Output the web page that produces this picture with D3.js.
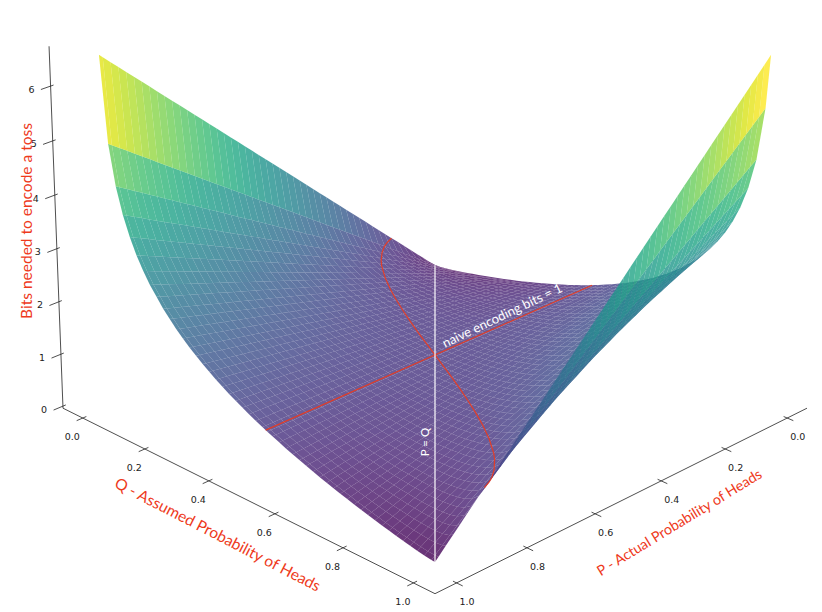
<!DOCTYPE html>
<html><head><meta charset="utf-8">
<script src="https://cdnjs.cloudflare.com/ajax/libs/d3/7.8.5/d3.min.js"></script>
<style>html,body{margin:0;padding:0;background:#fff}svg{display:block}</style>
</head><body><svg id="c" width="822" height="612"></svg>
<script>
// Surface heights: rows are Q values, columns are P values
const pGrid = [0.01, 0.33, 0.67, 0.98, 0.99];
const qGrid = [0.01,0.03,0.05,0.07,0.09,0.11,0.13,0.15,0.19,0.23,0.27,0.31,0.35,0.39,0.43,0.47,0.49,
               0.52,0.56,0.60,0.64,0.68,0.72,0.76,0.80,0.84,0.86,0.88,0.90,0.92,0.94,0.96,0.98,0.99];
const bits = [
[0.081,2.202,4.456,6.511,6.578],
[0.094,1.699,3.404,4.959,5.009],
[0.116,1.476,2.920,4.237,4.279],
[0.142,1.336,2.605,3.762,3.800],
[0.170,1.238,2.372,3.407,3.441],
[0.198,1.163,2.189,3.124,3.154],
[0.228,1.106,2.038,2.888,2.916],
[0.260,1.060,1.911,2.687,2.712],
[0.325,0.994,1.706,2.354,2.375],
[0.395,0.952,1.545,2.085,2.103],
[0.468,0.928,1.415,1.860,1.875],
[0.547,0.916,1.309,1.667,1.679],
[0.630,0.916,1.220,1.497,1.506],
[0.720,0.926,1.145,1.345,1.351],
[0.815,0.945,1.084,1.210,1.214],
[0.918,0.973,1.032,1.085,1.087],
[0.972,0.990,1.010,1.028,1.029],
[1.058,1.021,0.981,0.945,0.944],
[1.181,1.069,0.951,0.844,0.840],
[1.316,1.129,0.930,0.749,0.743],
[1.466,1.200,0.918,0.661,0.652],
[1.633,1.285,0.915,0.578,0.567],
[1.823,1.387,0.924,0.501,0.488],
[2.042,1.510,0.945,0.429,0.413],
[2.302,1.662,0.982,0.362,0.342],
[2.620,1.854,1.041,0.299,0.275],
[2.811,1.973,1.082,0.270,0.244],
[3.030,2.110,1.133,0.242,0.213],
[3.290,2.276,1.198,0.215,0.184],
[3.609,2.481,1.283,0.191,0.156],
[4.019,2.749,1.399,0.169,0.129],
[4.598,3.131,1.572,0.151,0.105],
[5.588,3.791,1.882,0.141,0.085],
[6.578,4.456,2.202,0.147,0.081]
];
// Curved branch of the 1-bit contour
const contourQ = [0.01,0.02,0.03,0.05,0.08,0.10,0.15,0.20,0.25,0.30,0.35,0.40,0.45,0.50,0.55,0.60,0.65,0.70,0.75,0.80,0.85,0.90,0.92,0.95,0.97,0.98,0.99];
const contourP = [0.149,0.173,0.191,0.218,0.250,0.268,0.306,0.339,0.369,0.397,0.424,0.450,0.475,0.5,0.525,0.550,0.576,0.603,0.631,0.661,0.694,0.732,0.750,0.782,0.809,0.827,0.851];
const pqTicks = [0,0.2,0.4,0.6,0.8,1];
const zTicks = [0,1,2,3,4,5,6];
const labels = {q:"Q - Assumed Probability of Heads", p:"P - Actual Probability of Heads", z:"Bits needed to encode a toss", pq:"P = Q", naive:"naive encoding bits = 1"};

const red="#ee3a1c";
// camera
const cx=435, cy=408, K=372, bf=0.085, bh=0.0323, Fpx=169.7, Hpx=311.5;
const boxLo=-0.065, boxHi=1.06;
const sP=d3.scaleLinear().domain([boxLo,boxHi]).range([-0.5,0.5]);
const sQ=d3.scaleLinear().domain([boxLo,boxHi]).range([-0.5,0.5]);
const sZ=d3.scaleLinear().domain([0,6]).range([0.006,1]);
function proj(p,q,z){
  const P=sP(p),Q=sQ(q),h=sZ(z);
  const R=Q-P,F=Q+P,d=bf*F+bh*h,w=1/(1-d);
  return [cx+K*R*w, cy-w*(Hpx*h-Fpx*F), d];
}
const svg=d3.select("#c");

// drawing mesh: the reference's roughly 0.02 grid
function fine(arr,step){const o=[];for(let i=0;i<arr.length-1;i++){const n=Math.max(1,Math.round((arr[i+1]-arr[i])/step));
  const f=d3.scaleLinear().domain([0,n]).range([arr[i],arr[i+1]]);for(let j=0;j<n;j++)o.push(f(j));}o.push(arr[arr.length-1]);return o;}
const pF=fine(pGrid,0.02), qF=fine(qGrid,0.02);
const colAt=d3.scaleLinear().domain(pGrid);
const rowIdx=d3.scaleLinear().domain(qGrid).range(qGrid.map((d,i)=>i));
const zGrid=qF.map(q=>{
  const t=rowIdx(q),i=Math.min(bits.length-2,Math.floor(t)),u=t-i;
  return pF.map(p=>{const a=colAt.copy().range(bits[i])(p),b=colAt.copy().range(bits[i+1])(p);return a+(b-a)*u;});
});
const facets=[];
for(let i=0;i<qF.length-1;i++)for(let j=0;j<pF.length-1;j++){
  const c=[[pF[j],qF[i],zGrid[i][j]],[pF[j+1],qF[i],zGrid[i][j+1]],[pF[j+1],qF[i+1],zGrid[i+1][j+1]],[pF[j],qF[i+1],zGrid[i+1][j]]];
  const pr=c.map(d=>proj(...d));
  facets.push({pts:pr.map(d=>d.slice(0,2)),depth:d3.mean(pr,d=>d[2]),z:d3.mean(c,d=>d[2])});
}
facets.sort((a,b)=>a.depth-b.depth);
const color=d3.scaleSequential(d3.interpolateViridis).domain(d3.extent(facets,d=>d.z));
const line=d3.line();
svg.append("g").selectAll("path").data(facets).join("path")
 .attr("d",d=>line(d.pts)+"Z").attr("fill",d=>color(d.z)).attr("fill-opacity",0.8);

// contour lines
svg.append("path").attr("d",line(contourQ.map((q,i)=>proj(contourP[i],q,1).slice(0,2))))
 .attr("fill","none").attr("stroke",red).attr("stroke-width",1.2).attr("stroke-opacity",.9);
svg.append("path").attr("d",line([0.01,0.99].map(p=>proj(p,0.5,1).slice(0,2))))
 .attr("fill","none").attr("stroke",red).attr("stroke-width",1.2).attr("stroke-opacity",.9);
// P = Q line
svg.append("path").attr("d",line([0.01,0.99].map(p=>proj(p,p,0.081).slice(0,2))))
 .attr("fill","none").attr("stroke","#fff").attr("stroke-width",1.3).attr("stroke-opacity",.9);

// axes
const gA=svg.append("g").attr("stroke","#222").attr("stroke-width",0.8).attr("fill","none");
function seg(a,b){gA.append("path").attr("d",line([a.slice(0,2),b.slice(0,2)]));}
const z0=-0.04;
seg(proj(boxHi,boxLo,z0),proj(boxHi,boxHi,z0));
seg(proj(boxHi,boxHi,z0),proj(boxLo,boxHi,z0));
seg(proj(boxHi,boxLo,z0),proj(boxHi,boxLo,6.72));
const tf="'DejaVu Sans',sans-serif", lf="Lato,'Open Sans',sans-serif";
function txt(x,y,s,size,fill,rot,fam){return svg.append("text").attr("x",x).attr("y",y).attr("text-anchor","middle").attr("dominant-baseline","central")
  .attr("font-family",fam).attr("font-size",size).attr("fill",fill).attr("transform",rot?`rotate(${rot} ${x} ${y})`:null).text(s);}
pqTicks.forEach(t=>{
  seg(proj(boxHi-0.01,t,z0),proj(boxHi+0.017,t,z0));
  const a=proj(boxHi,t,z0); txt(a[0]-10.5,a[1]+18.5,t.toFixed(1),9.5,"#222",0,tf);
  seg(proj(t,boxHi-0.01,z0),proj(t,boxHi+0.017,z0));
  const b=proj(t,boxHi,z0); txt(b[0]+10.5,b[1]+18.5,t.toFixed(1),9.5,"#222",0,tf);
});
zTicks.forEach(t=>{
  seg(proj(boxHi-0.008,boxLo,t),proj(boxHi+0.026,boxLo,t));
  const a=proj(boxHi,boxLo,t); txt(a[0]-19,a[1]+3,t,9.5,"#222",0,tf);
});
txt(218,534,labels.q,15.5,red,27.3,lf);
txt(679,522,labels.p,14.3,red,-31.5,lf);
txt(26,221,labels.z,15.5,red,-90,lf);
txt(424,442,labels.pq,11.5,"#fff",-90,lf);
txt(502,315,labels.naive,13,"#fff",-25.6,lf);
</script></body></html>
